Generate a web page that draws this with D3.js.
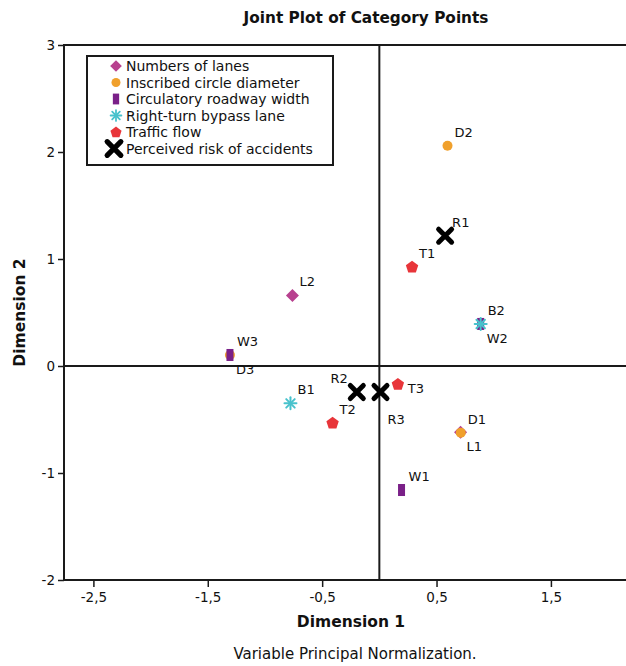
<!DOCTYPE html>
<html>
<head>
<meta charset="utf-8">
<script src="https://cdn.jsdelivr.net/npm/d3@7"></script>
<style>
  html, body { margin: 0; padding: 0; background: #fff; overflow: hidden; }
  svg { display: block; font-family: "DejaVu Sans", sans-serif; }
</style>
</head>
<body>
<svg id="chart" width="626" height="666"></svg>
<script>
// Category quantifications, one small array per variable
const numbersOfLanes = [
  { label: "L1", x: 0.71, y: -0.62 },
  { label: "L2", x: -0.76, y: 0.66 }
];
const inscribedCircleDiameter = [
  { label: "D1", x: 0.712, y: -0.623 },
  { label: "D2", x: 0.596, y: 2.059 },
  { label: "D3", x: -1.306, y: 0.103 }
];
const circulatoryRoadwayWidth = [
  { label: "W1", x: 0.194, y: -1.159 },
  { label: "W2", x: 0.886, y: 0.393 },
  { label: "W3", x: -1.306, y: 0.103 }
];
const rightTurnBypassLane = [
  { label: "B1", x: -0.777, y: -0.349 },
  { label: "B2", x: 0.886, y: 0.393 }
];
const trafficFlow = [
  { label: "T1", x: 0.286, y: 0.928 },
  { label: "T2", x: -0.409, y: -0.530 },
  { label: "T3", x: 0.162, y: -0.168 }
];
const perceivedRisk = [
  { label: "R1", x: 0.575, y: 1.218 },
  { label: "R2", x: -0.197, y: -0.243 },
  { label: "R3", x: 0.01, y: -0.243 }
];

const seriesNames = [
  "Numbers of lanes",
  "Inscribed circle diameter",
  "Circulatory roadway width",
  "Right-turn bypass lane",
  "Traffic flow",
  "Perceived risk of accidents"
];
const yTicks = [-2, -1, 0, 1, 2, 3];
const xTicks = [-2.5, -1.5, -0.5, 0.5, 1.5];

// Which side of its marker each category label sits on
const labelSide = {
  L1: "below", D3: "below", W2: "below", R3: "belowFar",
  R2: "aboveLeft", T3: "right"
};

const series = [
  { name: seriesNames[0], data: numbersOfLanes, shape: "diamond", color: "#b8418f" },
  { name: seriesNames[1], data: inscribedCircleDiameter, shape: "circle", color: "#f0a02c" },
  { name: seriesNames[2], data: circulatoryRoadwayWidth, shape: "rect", color: "#7a2088" },
  { name: seriesNames[3], data: rightTurnBypassLane, shape: "asterisk", color: "#48c2cc" },
  { name: seriesNames[4], data: trafficFlow, shape: "pentagon", color: "#e8353a" },
  { name: seriesNames[5], data: perceivedRisk, shape: "cross", color: "#000000" }
];

const svg = d3.select("#chart");
const plotLeft = 64, plotTop = 45, plotBottom = 580, plotRight = 690;

const x = d3.scaleLinear().domain([-2.757, 2.716]).range([plotLeft, plotRight]);
const y = d3.scaleLinear().domain([-2, 3]).range([plotBottom, plotTop]);

const fmt = v => String(v).replace(".", ",");
const ink = "#1a1a1a";
const textInk = "#111";

// plot frame
svg.append("rect")
  .attr("x", plotLeft).attr("y", plotTop)
  .attr("width", plotRight - plotLeft).attr("height", plotBottom - plotTop)
  .attr("fill", "none").attr("stroke", ink).attr("stroke-width", 2);

// reference lines through the origin
svg.append("line")
  .attr("x1", plotLeft).attr("x2", plotRight).attr("y1", y(0)).attr("y2", y(0))
  .attr("stroke", ink).attr("stroke-width", 2);
svg.append("line")
  .attr("x1", x(0)).attr("x2", x(0)).attr("y1", plotTop).attr("y2", plotBottom)
  .attr("stroke", ink).attr("stroke-width", 2);

// axes
const yAxis = d3.axisLeft(y).tickValues(yTicks).tickSize(6).tickPadding(3)
  .tickFormat(d => (d < 0 ? "-" : "") + Math.abs(d));
const gy = svg.append("g").attr("transform", `translate(${plotLeft},0)`).call(yAxis);
const xAxis = d3.axisBottom(x).tickValues(xTicks).tickSize(7).tickPadding(5)
  .tickFormat(d => (d < 0 ? "-" : "") + fmt(Math.abs(d)));
const gx = svg.append("g").attr("transform", `translate(0,${plotBottom})`).call(xAxis);
[gx, gy].forEach(g => {
  g.select(".domain").remove();
  g.selectAll(".tick line").attr("stroke", ink).attr("stroke-width", 1.5);
  g.selectAll(".tick text").attr("fill", textInk)
    .style("font-family", "DejaVu Sans, sans-serif").style("font-size", "13.5px");
});

// titles
svg.append("text").attr("x", 366).attr("y", 23).attr("text-anchor", "middle")
  .style("font-size", "15.3px").style("font-weight", "bold").attr("fill", textInk)
  .text("Joint Plot of Category Points");
svg.append("text").attr("x", 351).attr("y", 627).attr("text-anchor", "middle")
  .style("font-size", "15.5px").style("font-weight", "bold").attr("fill", textInk)
  .text("Dimension 1");
svg.append("text").attr("transform", `translate(25,${(plotTop + plotBottom) / 2}) rotate(-90)`)
  .attr("text-anchor", "middle")
  .style("font-size", "15.5px").style("font-weight", "bold").attr("fill", textInk)
  .text("Dimension 2");
svg.append("text").attr("x", 355).attr("y", 659).attr("text-anchor", "middle")
  .style("font-size", "15px").attr("fill", textInk)
  .text("Variable Principal Normalization.");

// marker drawing
function drawMarker(g, shape, color) {
  switch (shape) {
    case "diamond":
      g.append("path").attr("d", "M0,-6.5L6.5,0L0,6.5L-6.5,0Z").attr("fill", color);
      break;
    case "circle":
      g.append("circle").attr("r", 5).attr("fill", color);
      break;
    case "rect":
      g.append("rect").attr("x", -3.5).attr("y", -6).attr("width", 7).attr("height", 12)
        .attr("fill", color);
      break;
    case "asterisk": {
      const a = g.append("g").attr("stroke", color).attr("stroke-width", 2).attr("stroke-linecap", "round");
      [0, 45, 90, 135].forEach(ang => {
        const r = 6, t = ang * Math.PI / 180;
        a.append("line")
          .attr("x1", -r * Math.cos(t)).attr("y1", -r * Math.sin(t))
          .attr("x2", r * Math.cos(t)).attr("y2", r * Math.sin(t));
      });
      break;
    }
    case "pentagon": {
      const pts = d3.range(5).map(i => {
        const t = -Math.PI / 2 + i * 2 * Math.PI / 5;
        return [6.5 * Math.cos(t), 6.5 * Math.sin(t) + 0.5];
      });
      g.append("path").attr("d", "M" + pts.join("L") + "Z").attr("fill", color);
      break;
    }
    case "cross":
      g.append("path").attr("d", "M-6.5,-6.5L6.5,6.5M6.5,-6.5L-6.5,6.5")
        .attr("stroke", color).attr("stroke-width", 5).attr("stroke-linecap", "round");
      break;
  }
}

// points
series.forEach(s => {
  s.data.forEach(d => {
    const g = svg.append("g").attr("transform", `translate(${x(d.x)},${y(d.y)})`);
    drawMarker(g, s.shape, s.color);
  });
});

// point labels
series.forEach(s => {
  s.data.forEach(d => {
    const side = labelSide[d.label] || "aboveRight";
    let dx = 7, dy = -9, anchor = "start";
    if (side === "below") { dx = 6; dy = 19; }
    if (side === "belowFar") { dx = 7; dy = 32; }
    if (side === "aboveLeft") { dx = -9; dy = -9; anchor = "end"; }
    if (side === "right") { dx = 10; dy = 9; }
    svg.append("text")
      .attr("x", x(d.x) + dx).attr("y", y(d.y) + dy)
      .attr("text-anchor", anchor)
      .style("font-size", "13px").attr("fill", textInk)
      .text(d.label);
  });
});

// legend
const lg = svg.append("g");
lg.append("rect").attr("x", 87).attr("y", 56).attr("width", 246).attr("height", 109)
  .attr("fill", "#fff").attr("stroke", ink).attr("stroke-width", 2);
series.forEach((s, i) => {
  const cy = 66 + i * 16.5;
  const k = s.shape === "cross" ? 1.05 : 0.9;
  const g = lg.append("g").attr("transform", `translate(${s.shape === "cross" ? 114 : 116},${cy}) scale(${k})`);
  drawMarker(g, s.shape, s.color);
  lg.append("text").attr("x", 126).attr("y", cy + 5)
    .style("font-size", "14px").attr("fill", textInk).text(s.name);
});
</script>
</body>
</html>
